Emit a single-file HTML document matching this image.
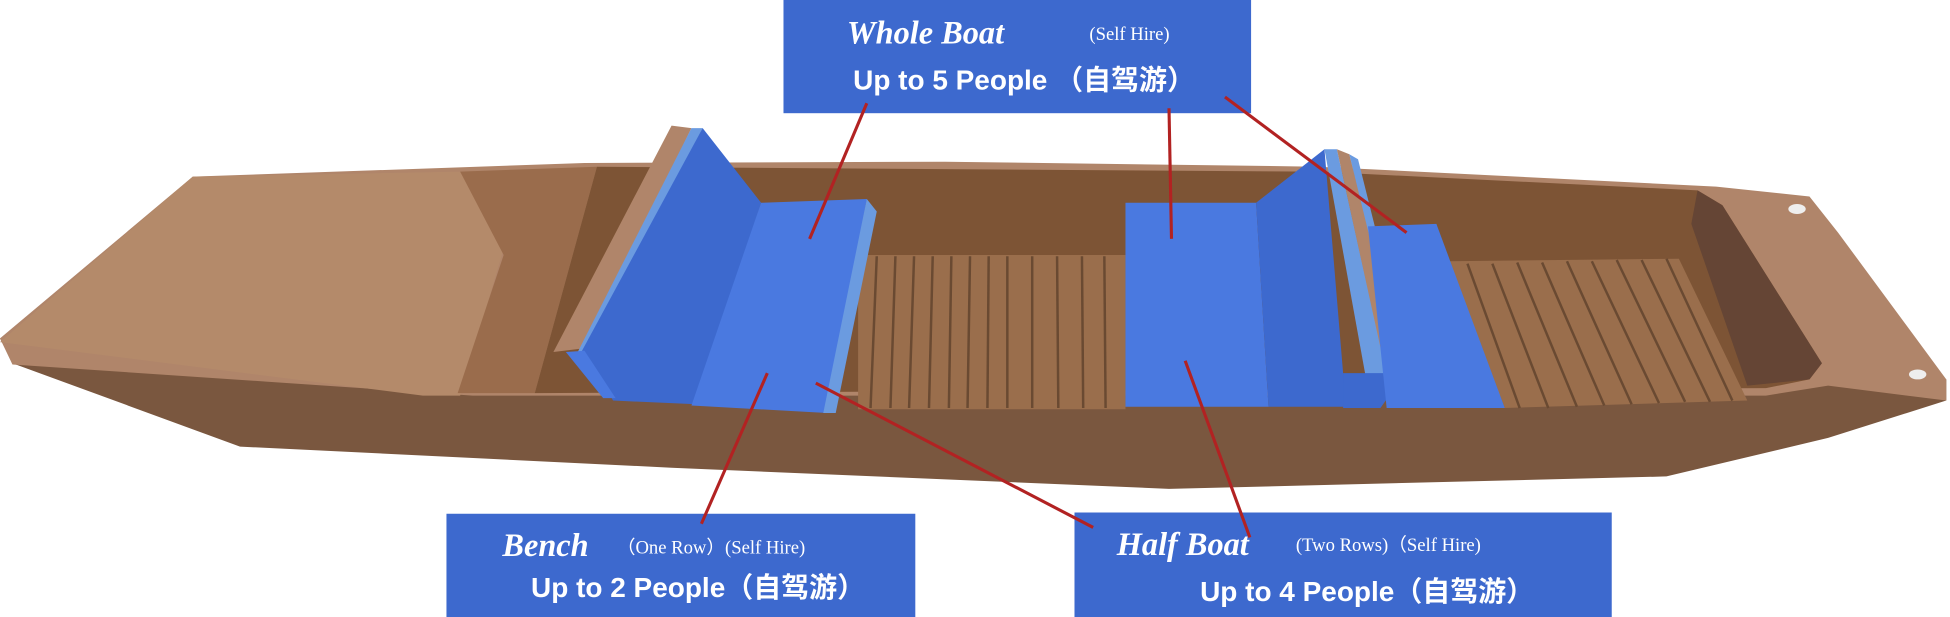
<!DOCTYPE html>
<html><head><meta charset="utf-8"><style>
html,body{margin:0;padding:0;background:#fff;width:1950px;height:617px;overflow:hidden}
svg{display:block}
.t1{font-family:"Liberation Serif",serif;font-weight:bold;font-style:italic;fill:#fff}
.t2{font-family:"Liberation Serif",serif;fill:#fff}
.t3{font-family:"Liberation Sans","Noto Sans CJK SC",sans-serif;font-weight:bold;fill:#fff}
</style></head><body>
<svg width="1950" height="617" viewBox="0 0 1568 496" preserveAspectRatio="none">
<polygon points="0,272 10,292 193,359 540,376 940,393 1340,383 1470,352 1565,322 1565,305 1470,300 380,316 10,275" fill="#7a573f"/>
<polygon points="0,272 155,142 470,131 760,130 1060,134 1380,150 1455,158 1478,187 1565,305 1565,322 1470,310 1420,318 380,318 10,293" fill="#b0856a"/>
<polygon points="155,142 370,138 405,200 370,318 340,318 0,275" fill="#b48a6a"/>
<polygon points="370,138 480,134 430,316 368,316 405,205" fill="#9a6c4c"/>
<polygon points="480,134 1060,138 1365,153 1385,165 1465,292 1455,305 1420,312 430,316" fill="#7d5435"/>
<polygon points="1365,153 1385,165 1465,292 1455,305 1405,310 1360,180" fill="#654535"/>
<rect x="690" y="205" width="215" height="124" fill="#9a6e4c"/>
<g stroke="#6a4a32" stroke-width="2">
<line x1="705" y1="206" x2="700" y2="328"/><line x1="720" y1="206" x2="716" y2="328"/><line x1="735" y1="206" x2="731" y2="328"/><line x1="750" y1="206" x2="747" y2="328"/><line x1="765" y1="206" x2="763" y2="328"/><line x1="780" y1="206" x2="778" y2="328"/><line x1="795" y1="206" x2="794" y2="328"/><line x1="810" y1="206" x2="810" y2="328"/><line x1="830" y1="206" x2="830" y2="328"/><line x1="850" y1="206" x2="851" y2="328"/><line x1="870" y1="206" x2="871" y2="328"/><line x1="888" y1="206" x2="889" y2="328"/>
</g>
<polygon points="1165,210 1350,208 1405,322 1210,328" fill="#9a6e4c"/>
<g stroke="#6a4a32" stroke-width="2">
<line x1="1180" y1="212" x2="1222" y2="328"/><line x1="1200" y1="212" x2="1245" y2="328"/><line x1="1220" y1="211" x2="1268" y2="327"/><line x1="1240" y1="211" x2="1290" y2="326"/><line x1="1260" y1="210" x2="1312" y2="325"/><line x1="1280" y1="210" x2="1334" y2="324"/><line x1="1300" y1="209" x2="1355" y2="323"/><line x1="1320" y1="209" x2="1375" y2="323"/><line x1="1340" y1="208" x2="1393" y2="322"/>
</g>
<polygon points="540,101 556,103 470,280 445,283" fill="#b0856a"/>
<polygon points="556,103 565,103 480,290 462,288" fill="#6b9be0"/>
<polygon points="565,103 612,163 560,325 493,322 468,282" fill="#3d69ce"/>
<polygon points="612,163 697,160 665,332 556,326" fill="#4a79e0"/>
<polygon points="697,160 705,170 672,332 662,332" fill="#6b9be0"/>
<polygon points="455,283 470,282 495,320 485,320" fill="#4a79e0"/>
<polygon points="905,163 1010,163 1020,327 905,327" fill="#4a79e0"/>
<polygon points="1010,163 1065,120 1080,300 1085,327 1020,327" fill="#3d69ce"/>
<polygon points="1065,120 1075,120 1115,300 1098,302" fill="#6b9be0"/>
<polygon points="1075,120 1085,124 1130,300 1115,302" fill="#b0856a"/>
<polygon points="1085,124 1092,128 1135,300 1128,300" fill="#6b9be0"/>
<polygon points="1080,300 1130,300 1110,328 1080,328" fill="#3d69ce"/>
<polygon points="1100,182 1155,180 1210,328 1115,328" fill="#4a79e0"/>
<ellipse cx="1445" cy="168" rx="7" ry="4" fill="#eee"/>
<ellipse cx="1542" cy="301" rx="7" ry="4" fill="#eee"/>

<rect x="630" y="0" width="376" height="91" fill="#3d69ce"/>
<text x="681" y="35" class="t1" font-size="26">Whole Boat</text>
<text x="876" y="32" class="t2" font-size="15">(Self Hire)</text>
<text x="686" y="72" class="t3" font-size="22.5">Up to 5 People （自驾游）</text>

<rect x="359" y="413" width="377" height="83" fill="#3d69ce"/>
<text x="404" y="447" class="t1" font-size="26">Bench</text>
<text x="496" y="445" class="t2" font-size="15">（One Row）(Self Hire)</text>
<text x="427" y="480" class="t3" font-size="22.5">Up to 2 People（自驾游）</text>

<rect x="864" y="412" width="432" height="84" fill="#3d69ce"/>
<text x="898" y="446" class="t1" font-size="26">Half Boat</text>
<text x="1042" y="443" class="t2" font-size="15">(Two Rows)（Self Hire)</text>
<text x="965" y="483" class="t3" font-size="22.5">Up to 4 People（自驾游）</text>

<g stroke="#b22222" stroke-width="2.5">
<line x1="697" y1="83" x2="651" y2="192"/>
<line x1="940" y1="87" x2="942" y2="192"/>
<line x1="985" y1="78" x2="1131" y2="187"/>
<line x1="617" y1="300" x2="564" y2="421"/>
<line x1="656" y1="308" x2="879" y2="424"/>
<line x1="953" y1="290" x2="1005" y2="432"/>
</g>
</svg>
</body></html>
